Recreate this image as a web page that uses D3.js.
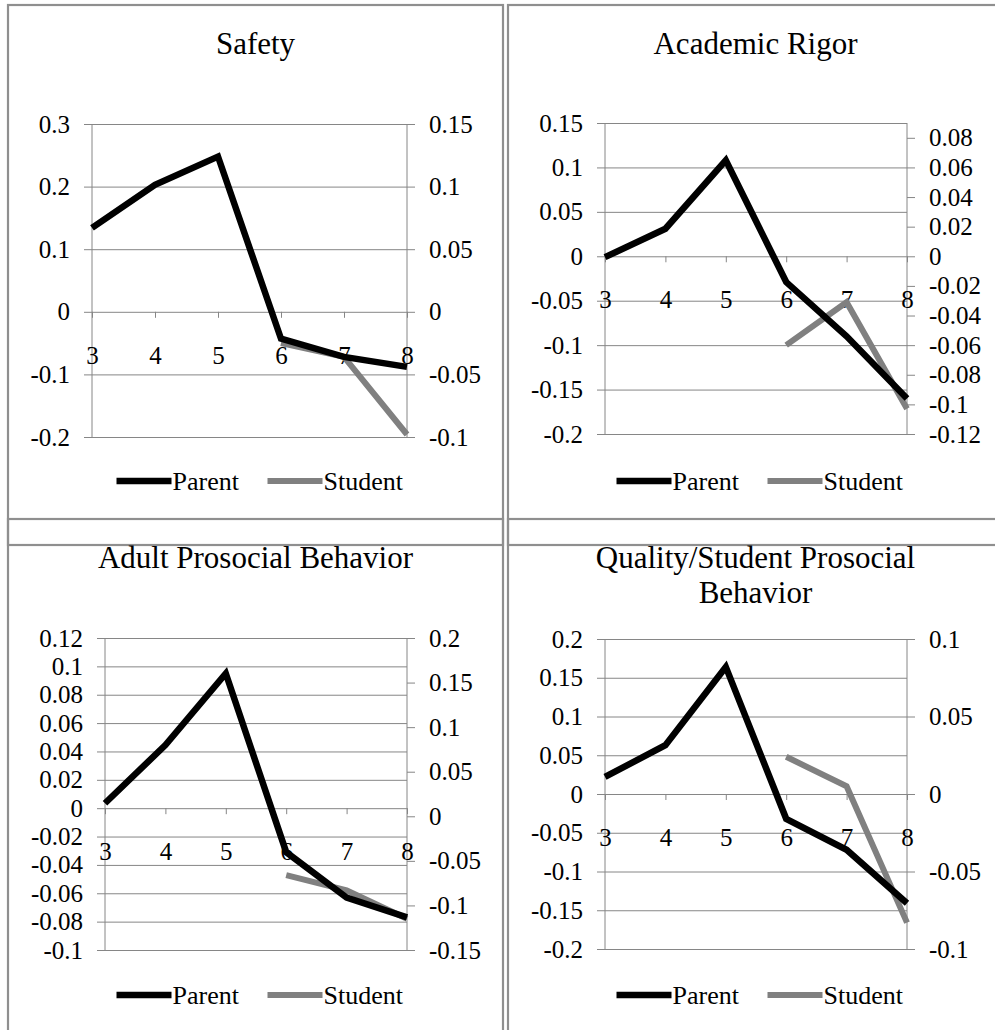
<!DOCTYPE html>
<html>
<head>
<meta charset="utf-8">
<script src="https://cdn.jsdelivr.net/npm/d3@7"></script>
<style>
  body { margin: 0; background: #fff; }
  svg { display: block; font-family: "Liberation Serif", "Times New Roman", serif; }
</style>
</head>
<body>
<div id="chart"></div>
<script>
// categories (grade)
const grades = [3, 4, 5, 6, 7, 8]
const studentGrades = [6, 7, 8]

// Safety
const safetyParent = [0.134, 0.203, 0.248, -0.043, -0.072, -0.088]
const safetyStudent = [-0.025, -0.036, -0.098]
const safetyLeftTicks = [0.3, 0.2, 0.1, 0, -0.1, -0.2]
const safetyRightTicks = [0.15, 0.1, 0.05, 0, -0.05, -0.1]

// Academic Rigor
const rigorParent = [-0.001, 0.031, 0.108, -0.029, -0.09, -0.16]
const rigorStudent = [-0.06, -0.031, -0.103]
const rigorLeftTicks = [0.15, 0.1, 0.05, 0, -0.05, -0.1, -0.15, -0.2]
const rigorRightTicks = [0.08, 0.06, 0.04, 0.02, 0, -0.02, -0.04, -0.06, -0.08, -0.1, -0.12]

// Adult Prosocial Behavior
const adultParent = [0.0035, 0.0445, 0.095, -0.031, -0.063, -0.077]
const adultStudent = [-0.066, -0.083, -0.115]
const adultLeftTicks = [0.12, 0.1, 0.08, 0.06, 0.04, 0.02, 0, -0.02, -0.04, -0.06, -0.08, -0.1]
const adultRightTicks = [0.2, 0.15, 0.1, 0.05, 0, -0.05, -0.1, -0.15]

// Quality/Student Prosocial Behavior
const qualityParent = [0.022, 0.063, 0.164, -0.032, -0.072, -0.141]
const qualityStudent = [0.024, 0.005, -0.083]
const qualityLeftTicks = [0.2, 0.15, 0.1, 0.05, 0, -0.05, -0.1, -0.15, -0.2]
const qualityRightTicks = [0.1, 0.05, 0, -0.05, -0.1]

const seriesNames = ['Parent', 'Student']

const W = 995, H = 1030
const FONT = '"Liberation Serif", "Times New Roman", serif'
const svg = d3.select('#chart').append('svg')
  .attr('width', W)
  .attr('height', H)

// layout of the 4 panels
const panels = [
  { title: ['Safety'], parent: safetyParent, student: safetyStudent,
    left: safetyLeftTicks, right: safetyRightTicks,
    fx: 8, fy: 5, px0: 92, px1: 407, py0: 124, py1: 437 },
  { title: ['Academic Rigor'], parent: rigorParent, student: rigorStudent,
    left: rigorLeftTicks, right: rigorRightTicks, rightMax: 0.09,
    fx: 508, fy: 5, px0: 605, px1: 907, py0: 123, py1: 434 },
  { title: ['Adult Prosocial Behavior'], parent: adultParent, student: adultStudent,
    left: adultLeftTicks, right: adultRightTicks,
    fx: 8, fy: 519, px0: 105, px1: 407, py0: 638, py1: 950 },
  { title: ['Quality/Student Prosocial', 'Behavior'], parent: qualityParent, student: qualityStudent,
    left: qualityLeftTicks, right: qualityRightTicks,
    fx: 508, fy: 519, px0: 605, px1: 907, py0: 639, py1: 949 }
]

const gridColor = '#868686'
const frameW = 495

function styleTicks(g) {
  g.attr('font-family', FONT).attr('font-size', 25)
  g.selectAll('.tick text').attr('fill', '#000')
}

panels.forEach(p => {
  // frame
  svg.append('rect')
    .attr('x', p.fx).attr('y', p.fy)
    .attr('width', frameW).attr('height', 540)
    .attr('fill', 'none')
    .attr('stroke', '#8f8f8f')
    .attr('stroke-width', 2.2)

  const cx = p.fx + frameW / 2
  p.title.forEach((t, i) => {
    svg.append('text')
      .attr('x', cx)
      .attr('y', p.fy + 49 + i * 35)
      .attr('text-anchor', 'middle')
      .attr('font-size', 31)
      .attr('fill', '#000')
      .text(t)
  })

  const w = p.px1 - p.px0
  const x = d3.scalePoint().domain(grades).range([p.px0, p.px1]).padding(0)
  const yL = d3.scaleLinear().domain([d3.min(p.left), d3.max(p.left)]).range([p.py1, p.py0])
  const yR = d3.scaleLinear().domain([d3.min(p.right), p.rightMax || d3.max(p.right)]).range([p.py1, p.py0])

  // left axis + gridlines
  const gl = svg.append('g')
    .attr('transform', 'translate(' + p.px0 + ',0)')
    .call(d3.axisLeft(yL).tickValues(p.left).tickSize(8).tickPadding(14).tickFormat(d => String(d)))
  gl.select('.domain').remove()
  gl.selectAll('.tick line').attr('x1', w).attr('x2', -8).attr('stroke', gridColor)
  styleTicks(gl)
  svg.append('line')
    .attr('x1', p.px0).attr('x2', p.px0).attr('y1', p.py0).attr('y2', p.py1)
    .attr('stroke', gridColor)

  // right axis
  const gr = svg.append('g')
    .attr('transform', 'translate(' + p.px1 + ',0)')
    .call(d3.axisRight(yR).tickValues(p.right).tickSize(8).tickPadding(14).tickFormat(d => String(d)))
  gr.select('.domain').remove()
  gr.selectAll('.tick line').attr('stroke', gridColor)
  styleTicks(gr)
  svg.append('line')
    .attr('x1', p.px1).attr('x2', p.px1).attr('y1', p.py0).attr('y2', p.py1)
    .attr('stroke', gridColor)

  // category axis crossing at zero
  const y0 = yL(0)
  const gx = svg.append('g')
    .attr('transform', 'translate(0,' + y0 + ')')
    .call(d3.axisBottom(x).tickSize(6).tickPadding(28))
  gx.select('.domain').remove()
  gx.selectAll('.tick line').attr('stroke', gridColor)
  styleTicks(gx)

  // series
  const lineL = d3.line().x((d, i) => x(grades[i])).y(d => yL(d))
  const lineR = d3.line().x((d, i) => x(studentGrades[i])).y(d => yR(d))
  svg.append('path')
    .attr('d', lineR(p.student))
    .attr('fill', 'none').attr('stroke', '#808080').attr('stroke-width', 6)
  svg.append('path')
    .attr('d', lineL(p.parent))
    .attr('fill', 'none').attr('stroke', '#000').attr('stroke-width', 6.5)

  // legend
  const ly = p.fy + 476
  const lx = cx - 139
  seriesNames.forEach((name, i) => {
    const sx = lx + i * 151
    svg.append('line')
      .attr('x1', sx).attr('x2', sx + 55).attr('y1', ly).attr('y2', ly)
      .attr('stroke', i === 0 ? '#000' : '#808080')
      .attr('stroke-width', i === 0 ? 6.5 : 6)
    svg.append('text')
      .attr('x', sx + 56).attr('y', ly + 9)
      .attr('font-size', 26)
      .attr('fill', '#000')
      .text(name)
  })
})
</script>
</body>
</html>
